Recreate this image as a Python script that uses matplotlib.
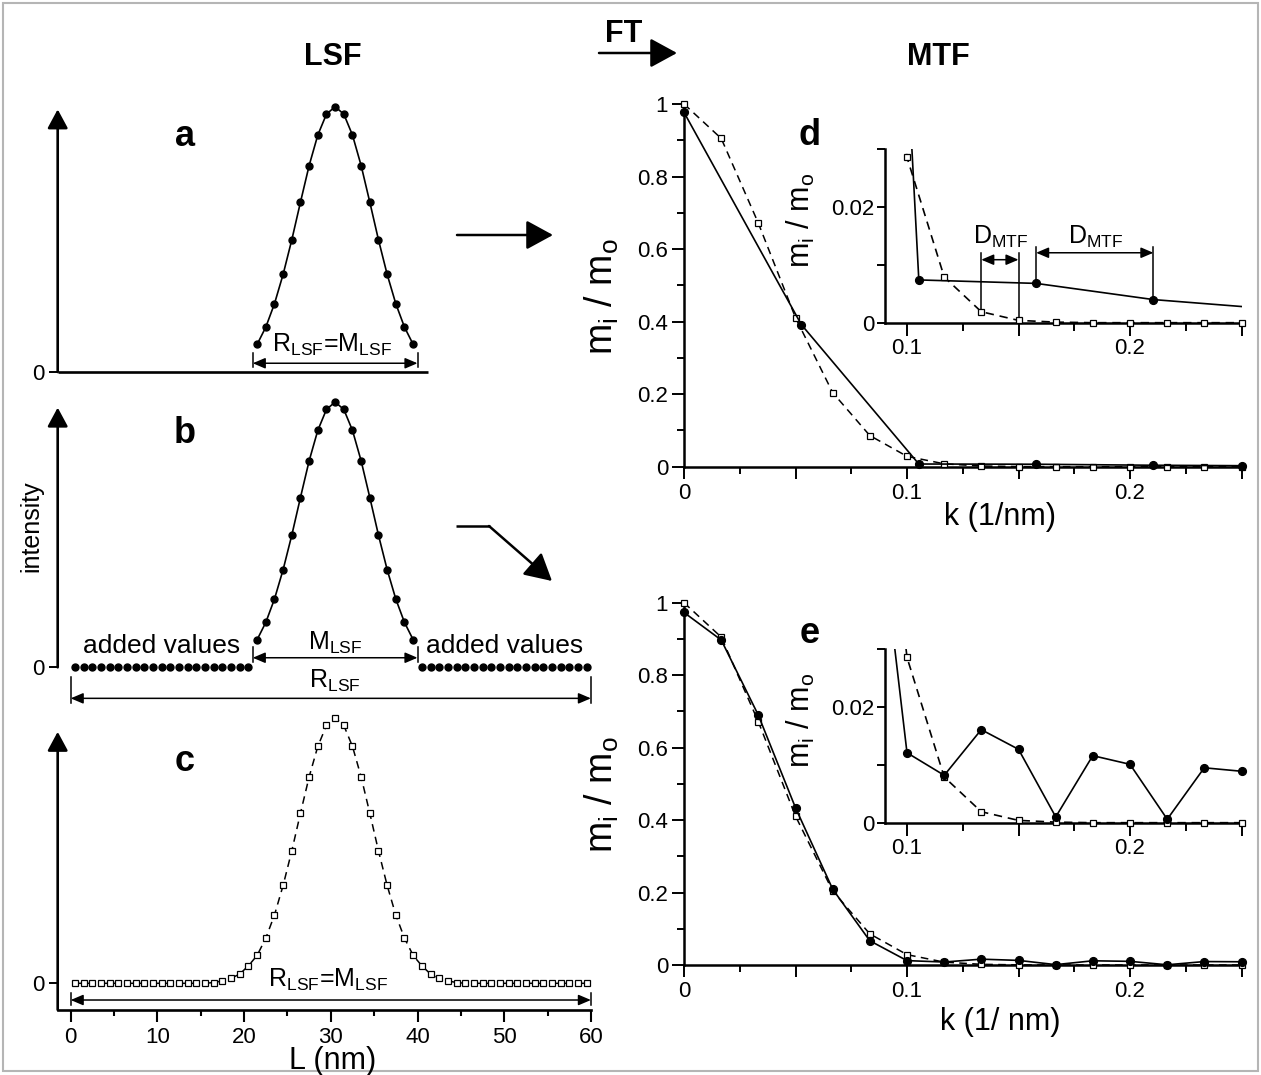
import matplotlib
matplotlib.use("Agg")
import matplotlib.pyplot as plt
import numpy as np
from matplotlib.patches import Rectangle

plt.rcParams["font.family"] = ["Liberation Sans", "DejaVu Sans"]
plt.rcParams["mathtext.fontset"] = "custom"
plt.rcParams["mathtext.rm"] = "Liberation Sans"
plt.rcParams["mathtext.it"] = "Liberation Sans:italic"
plt.rcParams["mathtext.bf"] = "Liberation Sans:bold"

# ---------------- data ----------------
# line spread function samples, one per nm
L_nm = np.arange(60) + 0.5
peak_L = L_nm[21:40]
peak_I = [0.104, 0.169, 0.257, 0.368, 0.498, 0.640, 0.778, 0.893, 0.972, 1.000,
          0.972, 0.893, 0.778, 0.640, 0.498, 0.368, 0.257, 0.169, 0.104]
added_left_L = L_nm[:21]
added_right_L = L_nm[40:]
gauss_I = [0.0] * 16 + [0.003, 0.009, 0.019, 0.035, 0.066, 0.105, 0.170, 0.257, 0.369,
                        0.499, 0.641, 0.778, 0.893, 0.972, 1.000, 0.972, 0.893, 0.778,
                        0.641, 0.499, 0.369, 0.257, 0.170, 0.105, 0.066, 0.035, 0.019,
                        0.009, 0.003] + [0.0] * 15

# modulation transfer functions
k_fine = [0.0, 0.0167, 0.0333, 0.05, 0.0667, 0.0833, 0.1, 0.1167, 0.1333, 0.15,
          0.1667, 0.1833, 0.2, 0.2167, 0.2333, 0.25]
mtf_gauss = [1.0, 0.905, 0.672, 0.411, 0.204, 0.086, 0.0286, 0.0079, 0.0019, 0.0004,
             0.0001, 0.0, 0.0, 0.0, 0.0, 0.0]
mtf_padded = [0.973, 0.897, 0.690, 0.434, 0.209, 0.067, 0.0121, 0.0082, 0.0161, 0.0127,
              0.0010, 0.0116, 0.0101, 0.0006, 0.0095, 0.0089]
k_coarse = [0.0, 0.0526, 0.1053, 0.1579, 0.2105, 0.25]
mtf_trunc = [0.977, 0.392, 0.0074, 0.0068, 0.0040, 0.0028]

# ---------------- figure ----------------
W, H = 1261, 1075
fig = plt.figure(figsize=(W / 100, H / 100), dpi=100)


def px_axes(left, top, right, bottom):
    return fig.add_axes([left / W, 1 - bottom / H, (right - left) / W, (bottom - top) / H])


def arrow(ax, start, end, style, ms, lw, coords="data"):
    ax.annotate("", xy=end, xytext=start, xycoords=coords, textcoords=coords,
                arrowprops=dict(arrowstyle=style, mutation_scale=ms, lw=lw, color="k",
                                shrinkA=0, shrinkB=0),
                annotation_clip=False)


# overlay in pixel units for headings, connecting arrows and frame
deco = fig.add_axes([0, 0, 1, 1])
deco.set_xlim(0, W)
deco.set_ylim(H, 0)
deco.axis("off")
deco.add_patch(Rectangle((3, 3), W - 6, H - 7, fill=False, ec="#b5b5b5", lw=1.5))
deco.text(333, 57, "LSF", fontsize=22, fontweight="bold", ha="center", va="center")
deco.text(938, 57, "MTF", fontsize=22, fontweight="bold", ha="center", va="center")
deco.text(624, 34, "FT", fontsize=22, fontweight="bold", ha="center", va="center")
HEAD = "-|>,head_length=1.65,head_width=0.9"
arrow(deco, (599, 53), (677, 53), HEAD, 10, 1.8)
arrow(deco, (457, 235), (553, 235), HEAD, 10, 1.8)
deco.plot([456, 490], [526, 526], color="k", lw=1.8, solid_capstyle="butt")
arrow(deco, (489, 526), (552, 581), HEAD, 10, 1.8)
for lbl, x, y in [("a", 185, 146), ("b", 185, 443), ("c", 185, 771),
                  ("d", 810, 145), ("e", 810, 643)]:
    deco.text(x, y, lbl, fontsize=26, fontweight="bold", ha="center", va="baseline")
deco.text(31, 526, "intensity", fontsize=18, rotation=90, ha="center", va="center")

# ---------------- LSF panels ----------------
PX_NM, X0 = 8.67, 70.7
PX_UNIT = 265.3
XL = (-1.5, 61.0)
AX_LW = 1.9
DBL = "<|-|>,head_length=0.75,head_width=0.32"
SUB = r"$_{\mathrm{LSF}}$"
TICK_FS = 16


def lsf_axes(zero_px, ylo, yhi):
    ax = px_axes(X0 + XL[0] * PX_NM, zero_px - yhi * PX_UNIT,
                 X0 + XL[1] * PX_NM, zero_px - ylo * PX_UNIT)
    ax.set_xlim(*XL)
    ax.set_ylim(ylo, yhi)
    ax.patch.set_alpha(0)
    for s in ax.spines.values():
        s.set_visible(False)
    ax.set_xticks([])
    ax.set_yticks([0])
    ax.set_yticklabels(["0"])
    ax.tick_params(axis="y", length=6.3, width=1.4, pad=3, labelsize=TICK_FS)
    return ax


def span_arrow(ax, x0, x1, y, bar_lo, bar_hi):
    arrow(ax, (x0, y), (x1, y), DBL, 10, 1.1)
    for x in (x0, x1):
        ax.plot([x, x], [bar_lo, bar_hi], color="k", lw=1.1, clip_on=False)


dot = dict(color="k", marker="o", ms=5, mfc="k", mec="k", clip_on=False)
YHEAD = "-|>,head_length=1.15,head_width=0.62"

# a: truncated LSF
ax_a = lsf_axes(372, 0.0, 1.08)
ax_a.plot([XL[0], 41.2], [0, 0], color="k", lw=AX_LW, solid_capstyle="butt", clip_on=False)
arrow(ax_a, (XL[0], 0), (XL[0], 0.99), YHEAD, 10, AX_LW)
ax_a.plot(peak_L, peak_I, lw=1.2, **dot)
span_arrow(ax_a, 21, 40, 0.033, 0.02, 0.073)
ax_a.text(30.1, 0.077, "R" + SUB + "=M" + SUB, fontsize=18, ha="center", va="baseline")

# b: truncated LSF padded with zeros
ax_b = lsf_axes(667.3, -0.15, 1.08)
arrow(ax_b, (XL[0], 0), (XL[0], 0.979), YHEAD, 10, AX_LW)
ax_b.plot(peak_L, peak_I, lw=1.2, **dot)
ax_b.plot(added_left_L, np.zeros(len(added_left_L)), ls="none", **dot)
ax_b.plot(added_right_L, np.zeros(len(added_right_L)), ls="none", **dot)
span_arrow(ax_b, 21, 40, 0.036, 0.021, 0.078)
ax_b.text(30.5, 0.065, "M" + SUB, fontsize=18, ha="center", va="baseline")
span_arrow(ax_b, 0, 60, -0.117, -0.135, -0.037)
ax_b.text(30.5, -0.079, "R" + SUB, fontsize=18, ha="center", va="baseline")
ax_b.text(10.5, 0.053, "added values", fontsize=19, ha="center", va="baseline")
ax_b.text(50.0, 0.053, "added values", fontsize=19, ha="center", va="baseline")

# c: full Gaussian LSF
ax_c = lsf_axes(983.3, -0.10, 1.08)
ax_c.spines["bottom"].set_visible(True)
ax_c.spines["bottom"].set_linewidth(AX_LW)
ax_c.spines["bottom"].set_bounds(XL[0], 60)
ax_c.spines["bottom"].set_capstyle("projecting")
arrow(ax_c, (XL[0], -0.10), (XL[0], 0.948), YHEAD, 10, AX_LW)
ax_c.set_xticks([0, 10, 20, 30, 40, 50, 60])
ax_c.set_xticks([5, 15, 25, 35, 45, 55], minor=True)
ax_c.tick_params(axis="x", which="major", length=8.4, width=1.5, pad=4, labelsize=TICK_FS)
ax_c.tick_params(axis="x", which="minor", length=4.3, width=1.5)
ax_c.plot(L_nm, gauss_I, color="k", lw=1.1, ls=(0, (5, 3.5)), marker="s", ms=4.5,
          mfc="white", mec="k", mew=0.9, clip_on=False)
span_arrow(ax_c, 0, 60, -0.063, -0.082, -0.038)
ax_c.text(29.7, -0.013, "R" + SUB + "=M" + SUB, fontsize=18, ha="center", va="baseline")
ax_c.set_xlabel("L (nm)", fontsize=22)
ax_c.xaxis.set_label_coords(0.508, -0.116)

# ---------------- MTF panels ----------------
PX_K = 2230.0
YLAB = r"m$_{\mathrm{i}}$ / m$_{\mathrm{o}}$"
sq = dict(marker="s", ms=4.2, mfc="white", mec="k", mew=0.9)
cir = dict(marker="o", ms=5.6, mfc="k", mec="k")
DASH = (0, (5, 3.5))


def style_spines(ax):
    for s in ("top", "right"):
        ax.spines[s].set_visible(False)
    for s in ("left", "bottom"):
        ax.spines[s].set_linewidth(1.8)
    ax.patch.set_alpha(0)


def mtf_axes(top, bottom):
    ax = px_axes(684, top, 684 + 0.25 * PX_K, bottom)
    ax.set_xlim(0, 0.25)
    ax.set_ylim(0, 1)
    style_spines(ax)
    ax.set_xticks([0, 0.05, 0.1, 0.15, 0.2, 0.25])
    ax.set_xticklabels(["0", "", "0.1", "", "0.2", ""])
    ax.set_xticks([0.025, 0.075, 0.125, 0.175, 0.225], minor=True)
    ax.set_yticks([0, 0.2, 0.4, 0.6, 0.8, 1.0])
    ax.set_yticklabels(["0", "0.2", "0.4", "0.6", "0.8", "1"])
    ax.set_yticks([0.1, 0.3, 0.5, 0.7, 0.9], minor=True)
    ax.tick_params(which="major", length=8.5, width=1.4, labelsize=TICK_FS, pad=3)
    ax.tick_params(which="minor", length=5, width=1.4)
    ax.set_ylabel(YLAB, fontsize=27)
    ax.yaxis.set_label_coords(-0.113, 0.47)
    return ax


def inset_axes(top, bottom):
    ax = px_axes(684 + 0.09 * PX_K, top, 684 + 0.25 * PX_K, bottom)
    ax.set_xlim(0.09, 0.25)
    ax.set_ylim(0, 0.03)
    style_spines(ax)
    ax.set_xticks([0.1, 0.15, 0.2, 0.25])
    ax.set_xticklabels(["0.1", "", "0.2", ""])
    ax.set_xticks([0.125, 0.175, 0.225], minor=True)
    ax.set_yticks([0, 0.02])
    ax.set_yticklabels(["0", "0.02"])
    ax.set_yticks([0.01, 0.03], minor=True)
    ax.tick_params(axis="x", which="major", length=9, width=1.4, labelsize=TICK_FS, pad=2)
    ax.tick_params(axis="x", which="minor", length=6, width=1.4)
    ax.tick_params(axis="y", which="both", length=5.5, width=1.4, labelsize=TICK_FS, pad=2)
    ax.set_ylabel(YLAB, fontsize=22)
    ax.yaxis.set_label_coords(-0.19, 0.59)
    return ax


def inset_series(ax, k, v, ls, mk, k_max=0.2501):
    k = np.asarray(k)
    v = np.asarray(v)
    ax.plot(k, v, color="k", lw=1.2, ls=ls)
    shown = (k >= 0.0899) & (k <= k_max) & (v <= 0.0301)
    ax.plot(k[shown], v[shown], ls="none", clip_on=False, zorder=3, **mk)


# d
ax_d = mtf_axes(104, 466.7)
ax_d.plot(k_fine, mtf_gauss, color="k", lw=1.1, ls=DASH, clip_on=False, zorder=3, **sq)
ax_d.plot(k_coarse, mtf_trunc, color="k", lw=1.2, clip_on=False, zorder=4, **cir)
ax_d.set_xlabel("k (1/nm)", fontsize=22)
ax_d.xaxis.set_label_coords(0.567, -0.098)

ax_di = inset_axes(149.3, 322.7)
inset_series(ax_di, k_fine, mtf_gauss, DASH, sq)
inset_series(ax_di, k_coarse, mtf_trunc, "-", cir, k_max=0.249)
DBL_S = "<|-|>,head_length=0.75,head_width=0.32"
# spacing of the sampled frequencies
for (x0, x1, y_arrow, y_top, lo0, lo1) in [
        (k_fine[8], k_fine[9], 0.0109, 0.0121, mtf_gauss[8], mtf_gauss[9]),
        (k_coarse[3], k_coarse[4], 0.0121, 0.0131, mtf_trunc[3], mtf_trunc[4])]:
    ax_di.plot([x0, x0], [lo0, y_top], color="k", lw=1.1)
    ax_di.plot([x1, x1], [lo1, y_top], color="k", lw=1.1)
    arrow(ax_di, (x0, y_arrow), (x1, y_arrow), DBL_S, 10, 1.1)
ax_di.text(0.1422, 0.0137, r"D$_{\mathrm{MTF}}$", fontsize=18, ha="center", va="baseline")
ax_di.text(0.1847, 0.0137, r"D$_{\mathrm{MTF}}$", fontsize=18, ha="center", va="baseline")

# e
ax_e = mtf_axes(602.7, 965)
ax_e.plot(k_fine, mtf_gauss, color="k", lw=1.1, ls=DASH, clip_on=False, zorder=3, **sq)
ax_e.plot(k_fine, mtf_padded, color="k", lw=1.2, clip_on=False, zorder=4, **cir)
ax_e.set_xlabel("k (1/ nm)", fontsize=22)
ax_e.xaxis.set_label_coords(0.567, -0.116)

ax_ei = inset_axes(649.3, 822.7)
inset_series(ax_ei, k_fine, mtf_gauss, DASH, sq)
inset_series(ax_ei, k_fine, mtf_padded, "-", cir)

fig.savefig("out.png", dpi=100)
